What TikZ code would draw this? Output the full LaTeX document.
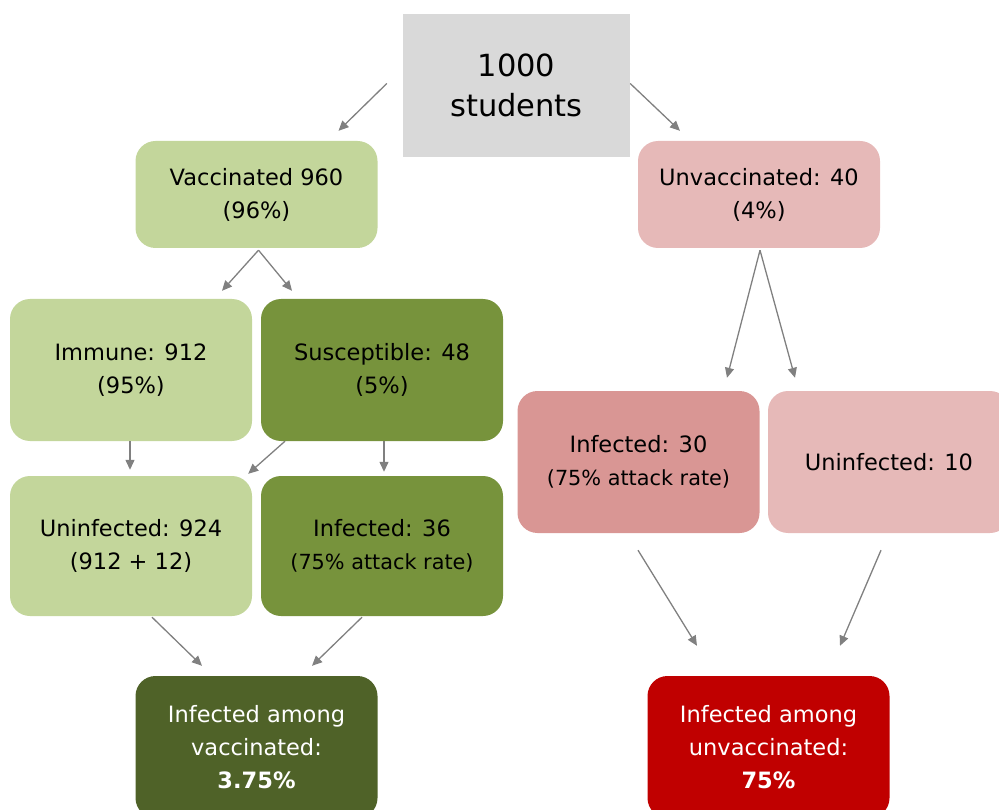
\documentclass[tikz,border=0pt]{standalone}
\usepackage{fontspec}
\setmainfont{DejaVu Sans}
\usetikzlibrary{arrows.meta}

\definecolor{boxgray}{HTML}{D9D9D9}
\definecolor{lightgreen}{HTML}{C3D69B}
\definecolor{midgreen}{HTML}{77933C}
\definecolor{darkgreen}{HTML}{4F6228}
\definecolor{lightpink}{HTML}{E6B9B8}
\definecolor{midpink}{HTML}{D99694}
\definecolor{darkred}{HTML}{C00000}
\definecolor{arrowgray}{HTML}{808080}

\begin{document}
\begin{tikzpicture} [x=1pt, y=-1pt,
  box/.style={rounded corners=20pt, minimum width=242pt, inner sep=0pt, align=center,
    font=\fontsize{22.5}{33}\selectfont},
  arr/.style={arrowgray, line width=1.3pt, -{Triangle[length=10pt,width=9pt]}}]
\useasboundingbox (0,0) rectangle (999,810);
\clip (0,0) rectangle (999,810);
\node[fill=boxgray, minimum width=227pt, minimum height=143pt, align=center,
  font=\fontsize{30.5}{40}\selectfont] (top) at (516.5,85.5) {1000\\students};
\node[box, fill=lightgreen, minimum height=107pt] (vacc) at (256.5,194.5) {Vaccinated 960\\(96\%)};
\node[box, fill=lightpink, minimum height=107pt] (unvacc) at (759,194.5) {Unvaccinated: 40\\(4\%)};
\node[box, fill=lightgreen, minimum height=142pt] (immune) at (131,370) {Immune: 912\\(95\%)};
\node[box, fill=midgreen, minimum height=142pt] (suscept) at (382,370) {Susceptible: 48\\(5\%)};
\node[box, fill=lightgreen, minimum height=140pt] (uninfvacc) at (131,546) {Uninfected: 924\\(912 + 12)};
\node[box, fill=midgreen, minimum height=140pt] (infvacc) at (382,546)
  {Infected: 36\\{\fontsize{20.8}{29}\selectfont(75\% attack rate)}};
\node[box, fill=midpink, minimum height=142pt] (infunvacc) at (638.5,462)
  {Infected: 30\\{\fontsize{20.8}{29}\selectfont(75\% attack rate)}};
\node[box, fill=lightpink, minimum height=142pt] (uninfunvacc) at (889,462) {Uninfected: 10};
\node[box, fill=darkgreen, text=white, minimum height=142pt] (totvacc) at (256.5,747)
  {Infected among\\vaccinated:\\\textbf{3.75\%}};
\node[box, fill=darkred, text=white, minimum height=142pt] (totunvacc) at (768.5,747)
  {Infected among\\unvaccinated:\\\textbf{75\%}};

\draw[arr] ([shift={(-16,-2)}]top.west) -- ([shift={(82,-10)}]vacc.north);
\draw[arr] ([shift={(0,-2)}]top.east) -- ([shift={(-79,-10)}]unvacc.north);
\draw[arr] ([shift={(2,2)}]vacc.south) -- ([shift={(91,-8)}]immune.north);
\draw[arr] ([shift={(2,2)}]vacc.south) -- ([shift={(-90,-8)}]suscept.north);
\draw[arr] ([shift={(1,2)}]unvacc.south) -- ([shift={(88.5,-13)}]infunvacc.north);
\draw[arr] ([shift={(1,2)}]unvacc.south) -- ([shift={(-94,-13)}]uninfunvacc.north);
\draw[arr] ([shift={(-1,0)}]immune.south) -- ([shift={(-1,-6)}]uninfvacc.north);
\draw[arr] ([shift={(-97,0)}]suscept.south) -- ([shift={(-4,-2)}]uninfvacc.north east);
\draw[arr] ([shift={(2,0)}]suscept.south) -- ([shift={(2,-4)}]infvacc.north);
\draw[arr] ([shift={(21,1)}]uninfvacc.south) -- ([shift={(-54.5,-10)}]totvacc.north);
\draw[arr] ([shift={(-20,1)}]infvacc.south) -- ([shift={(55.5,-10)}]totvacc.north);
\draw[arr] ([shift={(-0.5,17)}]infunvacc.south) -- ([shift={(-71.5,-30)}]totunvacc.north);
\draw[arr] ([shift={(-8,17)}]uninfunvacc.south) -- ([shift={(71.5,-30)}]totunvacc.north);
\end{tikzpicture}
\end{document}
